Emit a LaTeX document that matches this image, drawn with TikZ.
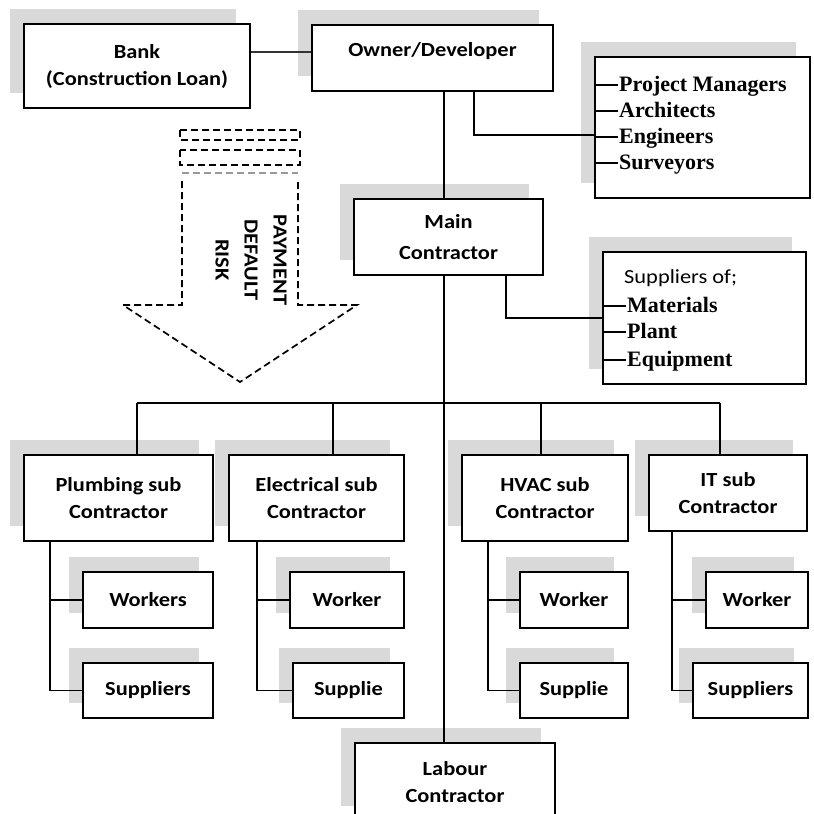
\documentclass[tikz,border=0pt]{standalone}
\usepackage{fontspec}
\setmainfont{Carlito}[FakeStretch=1.12]
\newfontfamily\listserif{Liberation Serif}
\usetikzlibrary{shadows}
\definecolor{shadowgray}{HTML}{D9D9D9}
\begin{document}
\begin{tikzpicture}[x=1pt,y=-1pt,
  box/.style={draw, fill=white, line width=1.4pt, align=center, inner sep=0pt,
    font=\bfseries\fontsize{20}{27}\selectfont,
    general shadow={fill=shadowgray, shadow xshift=-14pt, shadow yshift=15pt}},
  conn/.style={line width=1.4pt},
  tick/.style={line width=1.8pt},
  dsh/.style={dash pattern=on 7pt off 4pt, line width=1.7pt},
  item/.style={inner sep=0pt, anchor=base west, font=\listserif\bfseries\fontsize{22}{27}\selectfont},
  lbl/.style={inner sep=0pt, font=\bfseries\fontsize{20}{27}\selectfont}]
\clip (0,0) rectangle (814,814);
\fill[white] (0,0) rectangle (814,814);

% top level
\node[box, minimum width=226pt, minimum height=84pt] (bank) at (137,66) {Bank\\(Construction Loan)};
\node[box, minimum width=241pt, minimum height=66pt] (owner) at (432.5,58) {};
\node[lbl] (ownert) at (432.5,51) {Owner/Developer};
\node[box, minimum width=215pt, minimum height=141pt] (list) at (702.5,127.5) {};
\node[box, minimum width=189pt, minimum height=76pt, font=\bfseries\fontsize{20}{31}\selectfont] (main) at (448.5,237) {Main\\Contractor};
\node[box, minimum width=203pt, minimum height=132pt] (supp) at (704.5,318) {};

% list items
\node[item] (pm) at (619,91) {Project Managers};
\node[item] (ar) at (619,117) {Architects};
\node[item] (en) at (619,143) {Engineers};
\node[item] (su) at (619,169) {Surveyors};
\foreach \n in {pm,ar,en,su} {
  \coordinate (d\n) at ([xshift=-1pt,yshift=6pt]\n.base west);
  \draw[tick] (list.west |- d\n) -- (d\n);
}

\node[inner sep=0pt, anchor=base west, font=\fontsize{20}{27}\selectfont] (sof) at (624,283) {Suppliers of;};
\node[item] (ma) at (627,312) {Materials};
\node[item] (pl) at (627,338) {Plant};
\node[item] (eq) at (627,366) {Equipment};
\foreach \n in {ma,pl,eq} {
  \coordinate (d\n) at ([xshift=-1pt,yshift=6pt]\n.base west);
  \draw[tick] (supp.west |- d\n) -- (d\n);
}

% sub contractors
\node[box, minimum width=189pt, minimum height=86pt] (plumb) at (118.5,498) {Plumbing sub\\Contractor};
\node[box, minimum width=175pt, minimum height=86pt] (elec) at (316.5,498) {Electrical sub\\Contractor};
\node[box, minimum width=166pt, minimum height=86pt] (hvac) at (545,498) {HVAC sub\\Contractor};
\node[box, minimum width=158pt, minimum height=76pt] (it) at (728,493) {IT sub\\Contractor};

\node[box, minimum width=130pt, minimum height=56pt] (pw) at (148,600) {Workers};
\node[box, minimum width=130pt, minimum height=55pt] (ps) at (148,690.5) {Suppliers};
\node[box, minimum width=114pt, minimum height=56pt] (ew) at (347,600) {Worker};
\node[box, minimum width=111pt, minimum height=55pt] (es) at (348.5,690.5) {Supplie};
\node[box, minimum width=108pt, minimum height=56pt] (hw) at (574,600) {Worker};
\node[box, minimum width=108pt, minimum height=55pt] (hs) at (574,690.5) {Supplie};
\node[box, minimum width=102pt, minimum height=56pt] (iw) at (757,600) {Worker};
\node[box, minimum width=115pt, minimum height=55pt] (is) at (750.5,690.5) {Suppliers};

\node[box, minimum width=200pt, minimum height=78pt] (labour) at (455,782) {Labour\\Contractor};

% connectors
\coordinate (tk) at (444,0);
\coordinate (bo) at (0,52);
\draw[line width=2.6pt, black!80] (bank.east |- bo) -- (owner.west |- bo);
\draw[conn] (owner.south -| tk) -- (main.north -| tk);
\draw[conn] (main.south -| tk) -- (labour.north -| tk);
\coordinate (oc) at (474,135);
\draw[conn] (owner.south -| oc) |- (list.west |- oc);
\coordinate (mc) at (506,318);
\draw[conn] (main.south -| mc) |- (supp.west |- mc);

\coordinate (busL) at (137,403);
\coordinate (busE) at (333,403);
\coordinate (busH) at (541,403);
\coordinate (busR) at (720,403);
\draw[conn] (busL) -- (busR);
\draw[conn] (busL) -- (plumb.north -| busL);
\draw[conn] (busE) -- (elec.north -| busE);
\draw[conn] (busH) -- (hvac.north -| busH);
\draw[conn] (busR) -- (it.north -| busR);

\coordinate (pc) at (50,0);
\coordinate (ec) at (257,0);
\coordinate (hc) at (488,0);
\coordinate (ic) at (672,0);
\draw[conn] (plumb.south -| pc) |- (ps.west);
\draw[conn] (pc |- pw.west) -- (pw.west);
\draw[conn] (elec.south -| ec) |- (es.west);
\draw[conn] (ec |- ew.west) -- (ew.west);
\draw[conn] (hvac.south -| hc) |- (hs.west);
\draw[conn] (hc |- hw.west) -- (hw.west);
\draw[conn] (it.south -| ic) |- (is.west);
\draw[conn] (ic |- iw.west) -- (iw.west);

% payment default risk arrow
\draw[dsh] (180,130) rectangle (300,140);
\draw[dsh] (180,150) rectangle (300,165);
\draw[dsh, black!40] (182,173) -- (298,173);
\draw[dsh] (182,181) -- (182,305) -- (123,305) -- (240,382) -- (357,305) -- (298,305) -- (298,181);
\node[rotate=-90, align=center, inner sep=0pt, font=\bfseries\fontsize{20}{29}\selectfont] (risk) at (251,260) {PAYMENT\\DEFAULT\\RISK};
\end{tikzpicture}
\end{document}
